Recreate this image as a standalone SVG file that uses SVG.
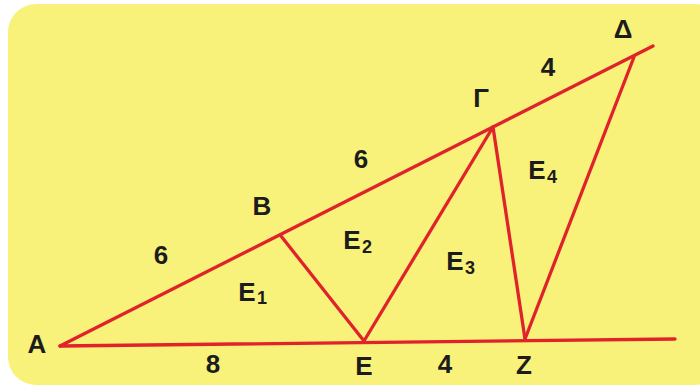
<svg xmlns="http://www.w3.org/2000/svg" width="700" height="387" viewBox="0 0 700 387">
<style>
.bg{fill:#f9f27a}
.ln{stroke:#e0232b;stroke-width:3.3;stroke-linecap:round;stroke-linejoin:round;fill:none}
.t{font-family:"Liberation Sans",Arial,sans-serif;font-weight:bold;font-size:26px;fill:#1c1c1c;text-anchor:middle}
.s{font-size:18px}
</style>
<rect class="bg" x="8" y="4" width="715" height="381" rx="28"/>
<g id="connectors">
<line class="ln" x1="60" y1="346" x2="675" y2="339"/>
<line class="ln" x1="60" y1="346" x2="653" y2="46"/>
<line class="ln" x1="281" y1="236" x2="364" y2="341"/>
<line class="ln" x1="364" y1="341" x2="493" y2="127"/>
<line class="ln" x1="493" y1="127" x2="525" y2="339"/>
<line class="ln" x1="525" y1="339" x2="634" y2="57"/>
</g>
<g id="A"><text class="t" x="37" y="353">A</text></g>
<g id="B"><text class="t" x="262" y="215">B</text></g>
<g id="G"><text class="t" x="481" y="107">Γ</text></g>
<g id="D"><text class="t" x="623" y="38">Δ</text></g>
<g id="E"><text class="t" x="364" y="375">E</text></g>
<g id="Z"><text class="t" x="524" y="374">Z</text></g>
<g id="lengths">
<text class="t" x="161" y="264">6</text>
<text class="t" x="361" y="168">6</text>
<text class="t" x="548" y="76">4</text>
<text class="t" x="213" y="373">8</text>
<text class="t" x="445" y="373">4</text>
</g>
<g id="E1"><text class="t" x="247" y="301">E</text><text class="t s" x="262" y="304">1</text></g>
<g id="E2"><text class="t" x="352" y="249">E</text><text class="t s" x="367" y="253">2</text></g>
<g id="E3"><text class="t" x="455" y="270">E</text><text class="t s" x="470" y="274">3</text></g>
<g id="E4"><text class="t" x="537" y="179">E</text><text class="t s" x="552" y="183">4</text></g>
</svg>
